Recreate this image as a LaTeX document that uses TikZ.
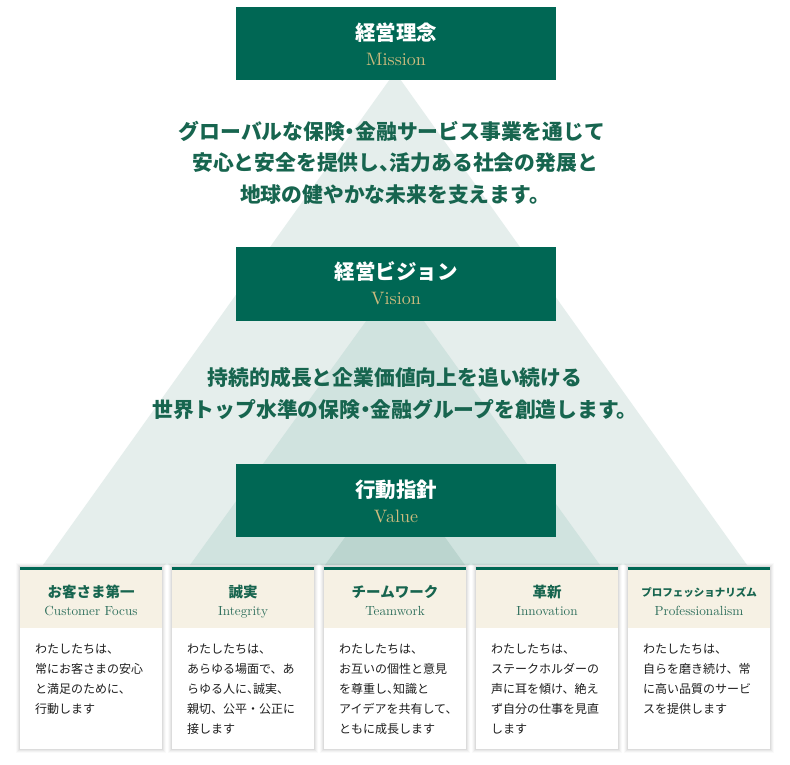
\documentclass[tikz,border=0pt]{standalone}
\usepackage{fontspec}
\newfontfamily\jp{Noto Sans CJK JP}
\newfontfamily\en[Extension=.otf]{lmroman10-regular}
\newcommand{\hdot}{\makebox[0.5em][c]{・}}
\newcommand{\hcomma}{\makebox[0.5em][l]{、}}
\definecolor{boxgreen}{HTML}{006754}
\definecolor{triA}{HTML}{E5EEEC}
\definecolor{triB}{HTML}{D0E3DF}
\definecolor{triC}{HTML}{BBD5CF}
\definecolor{gold}{HTML}{CDBB7E}
\definecolor{titlegreen}{HTML}{17654F}
\definecolor{subgreen}{HTML}{2E6F5C}
\definecolor{beige}{HTML}{F6F1E4}
\definecolor{bodytext}{HTML}{1E1E1E}
\tikzset{
  x=1pt, y=-1pt,
  bigbox/.style={fill=boxgreen, draw=none},
  boxtitle/.style={anchor=base, text=white, font=\jp\bfseries\fontsize{20.5}{24}\selectfont, inner sep=0pt},
  boxsub/.style={anchor=base, text=gold, font=\en\fontsize{18}{20}\selectfont, inner sep=0pt},
  mainline/.style={anchor=base, text=titlegreen, font=\jp\bfseries\fontsize{20.8}{24}\selectfont, inner sep=0pt},
  cardtitle/.style={anchor=base, text=titlegreen, font=\jp\bfseries\fontsize{14.5}{17}\selectfont, inner sep=0pt},
  cardtitlesmall/.style={anchor=base, text=titlegreen, font=\jp\bfseries\fontsize{10.5}{13}\selectfont, inner sep=0pt},
  cardsub/.style={anchor=base, text=subgreen, font=\en\fontsize{13.2}{16}\selectfont, inner sep=0pt},
  cardbody/.style={anchor=base west, text=bodytext, font=\jp\fontsize{12}{14}\selectfont, inner sep=0pt},
}
\newcommand{\cardframe}[2]{% #1 = left x, #2 = name
  \fill[black, opacity=0.02] (#1-4,563) rectangle (#1+146,753);
  \fill[black, opacity=0.03] (#1-3,564) rectangle (#1+145,752);
  \fill[black, opacity=0.04] (#1-2,565) rectangle (#1+144,751);
  \fill[black, opacity=0.05] (#1-1,566) rectangle (#1+143,750);
  \fill[white] (#1,567) rectangle (#1+142,749);
  \fill[beige] (#1,570) rectangle (#1+142,628);
  \fill[boxgreen] (#1,567) rectangle (#1+142,570);
  \coordinate (#2) at (#1+71,567);
}
\begin{document}
\begin{tikzpicture}
\useasboundingbox (0,0) rectangle (790,765);
\fill[white] (0,0) rectangle (790,765);
% pyramid triangles
\fill[triA] (395,72) -- (747,565) -- (43,565) -- cycle;
\fill[triB] (395,281) -- (600,565) -- (190,565) -- cycle;
\fill[triC] (395,468) -- (465,565) -- (325,565) -- cycle;

% Mission
\fill[bigbox] (236,7) rectangle (556,80);
\node[boxtitle] (missionT) at (396,40.5) {経営理念};
\node[boxsub] (missionE) at (396,65.5) {Mission};
\node[mainline] (m1) at (392,139.5) {グローバルな保険\hdot 金融サービス事業を通じて};
\node[mainline] (m2) at (395,171) {安心と安全を提供し\hcomma 活力ある社会の発展と};
\node[mainline] (m3) at (395,202.5) {地球の健やかな未来を支えます。};

% Vision
\fill[bigbox] (236,247) rectangle (556,321);
\node[boxtitle] (visionT) at (396,279.5) {経営ビジョン};
\node[boxsub] (visionE) at (396,304.5) {Vision};
\node[mainline] (v1) at (395,385.5) {持続的成長と企業価値向上を追い続ける};
\node[mainline] (v2) at (395,417.5) {世界トップ水準の保険\hdot 金融グループを創造します。};

% Value
\fill[bigbox] (236,464) rectangle (556,537);
\node[boxtitle] (valueT) at (396,497) {行動指針};
\node[boxsub] (valueE) at (396,522.5) {Value};

% Cards
\cardframe{20}{c1}
\node[cardtitle] (c1t) at (91,597.5) {お客さま第一};
\node[cardsub] (c1e) at (91,615) {Customer Focus};
\foreach \t [count=\k from 0] in {わたしたちは、, 常にお客さまの安心, と満足のために、, 行動します}
  \node[cardbody] (c1b\k) at (35,653+20*\k) {\t};

\cardframe{172}{c2}
\node[cardtitle] (c2t) at (243,597.5) {誠実};
\node[cardsub] (c2e) at (243,615) {Integrity};
\foreach \t [count=\k from 0] in {わたしたちは、, あらゆる場面で、あ, らゆる人に\hcomma 誠実、, 親切、公平・公正に, 接します}
  \node[cardbody] (c2b\k) at (187,653+20*\k) {\t};

\cardframe{324}{c3}
\node[cardtitle] (c3t) at (395,597.5) {チームワーク};
\node[cardsub] (c3e) at (395,615) {Teamwork};
\foreach \t [count=\k from 0] in {わたしたちは、, お互いの個性と意見, を尊重し\hcomma 知識と, アイデアを共有して、, ともに成長します}
  \node[cardbody] (c3b\k) at (339,653+20*\k) {\t};

\cardframe{476}{c4}
\node[cardtitle] (c4t) at (547,597.5) {革新};
\node[cardsub] (c4e) at (547,615) {Innovation};
\foreach \t [count=\k from 0] in {わたしたちは、, ステークホルダーの, 声に耳を傾け、絶え, ず自分の仕事を見直, します}
  \node[cardbody] (c4b\k) at (491,653+20*\k) {\t};

\cardframe{628}{c5}
\node[cardtitlesmall] (c5t) at (699,596) {プロフェッショナリズム};
\node[cardsub] (c5e) at (699,615) {Professionalism};
\foreach \t [count=\k from 0] in {わたしたちは、, 自らを磨き続け、常, に高い品質のサービ, スを提供します}
  \node[cardbody] (c5b\k) at (643,653+20*\k) {\t};
\end{tikzpicture}
\end{document}
